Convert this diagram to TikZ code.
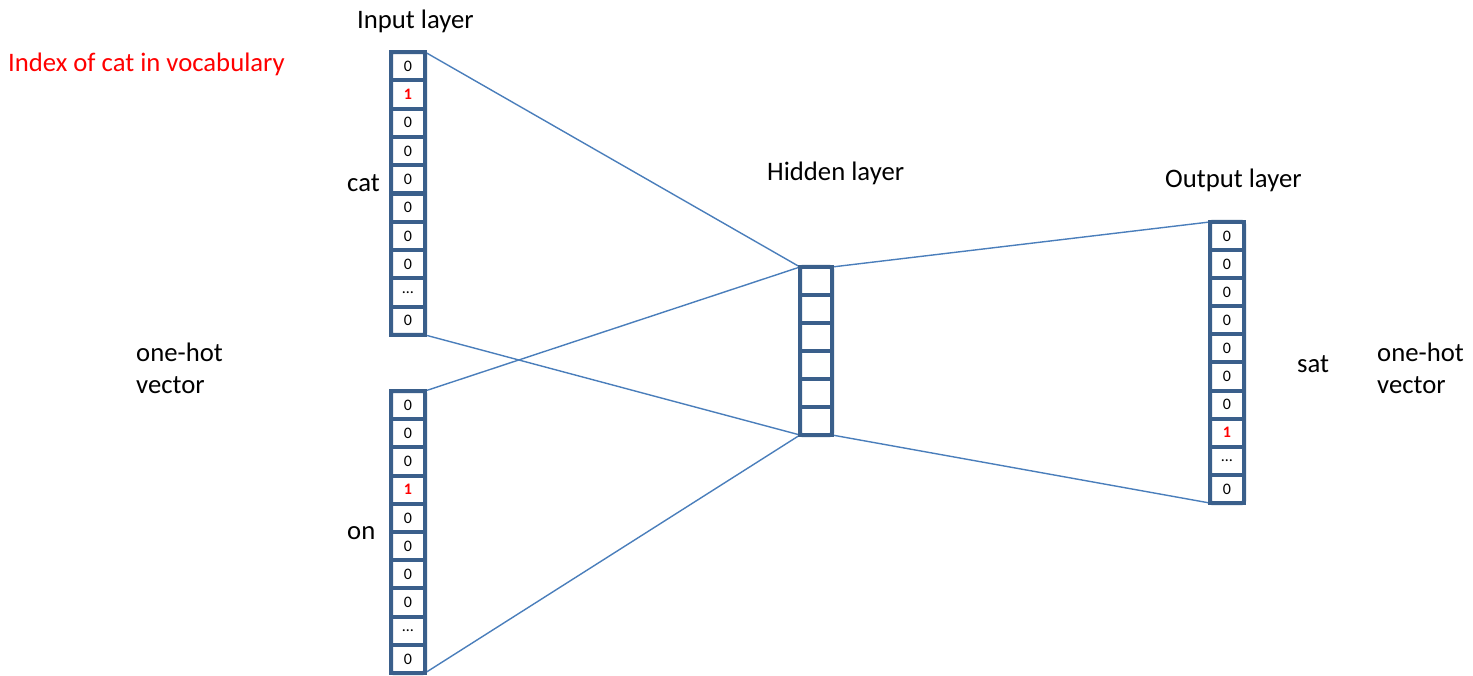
\documentclass[tikz,border=0pt]{standalone}
\usepackage{fontspec}
\setmainfont{Carlito}
\usetikzlibrary{backgrounds}
\definecolor{frameblue}{HTML}{3A5F8B}
\definecolor{connblue}{HTML}{4A7EBB}
\tikzset{
  vcell/.style={draw=frameblue, line width=4pt, fill=white, minimum width=34pt,
    minimum height=28.2pt, inner sep=0pt, outer sep=0pt,
    font=\fontsize{16}{16}\selectfont, text=black},
  hcell/.style={vcell, minimum width=32pt, minimum height=28pt},
  outer/.style={draw=frameblue, line width=4pt, rounded corners=2pt},
  conn/.style={draw=connblue, line width=1.4pt},
  lbl/.style={font=\fontsize{26.7}{31.6}\selectfont, inner sep=0pt, anchor=base west, align=left},
}
\newcommand{\redone}{\textcolor{red}{\textbf{1}}}
\begin{document}
\begin{tikzpicture}[x=1pt,y=-1pt]
\useasboundingbox (0,0) rectangle (1473,676);
% input vector 1 (cat)
\foreach \i in {1,...,10} {
  \node[vcell] (a\i) at (408,{52+28.3*(\i-0.5)})
    {\ifnum\i=2 \redone\else\ifnum\i=9 \ldots\else 0\fi\fi};
}
\draw[outer] (a1.north west) rectangle (a10.south east);
% input vector 2 (on)
\foreach \i in {1,...,10} {
  \node[vcell] (b\i) at (408,{391+28.2*(\i-0.5)})
    {\ifnum\i=4 \redone\else\ifnum\i=9 \ldots\else 0\fi\fi};
}
\draw[outer] (b1.north west) rectangle (b10.south east);
% hidden layer
\foreach \i in {1,...,6} {
  \node[hcell] (h\i) at (816,{267+28*(\i-0.5)}) {};
}
\draw[outer] (h1.north west) rectangle (h6.south east);
% output vector (sat)
\foreach \i in {1,...,10} {
  \node[vcell] (c\i) at (1227,{222+28.1*(\i-0.5)})
    {\ifnum\i=8 \redone\else\ifnum\i=9 \ldots\else 0\fi\fi};
}
\draw[outer] (c1.north west) rectangle (c10.south east);
% connectors
\begin{scope}[on background layer]
  \draw[conn] (a1.north east) -- (h1.north west);
  \draw[conn] (a10.south east) -- (h6.south west);
  \draw[conn] (b1.north east) -- (h1.north west);
  \draw[conn] (b10.south east) -- (h6.south west);
  \draw[conn] (h1.north east) -- (c1.north west);
  \draw[conn] (h6.south east) -- (c10.south west);
\end{scope}
% labels
\node[lbl] (tin) at (357,28.5) {Input layer};
\node[lbl, text=red] (tidx) at (8,71.5) {Index of cat in vocabulary};
\node[lbl] (tcat) at (347,191.7) {cat};
\node[lbl] (ton) at (347,539.3) {on};
\node[lbl] (thid) at (767,180.7) {Hidden layer};
\node[lbl] (tout) at (1165,187.3) {Output layer};
\node[lbl] (tsat) at (1297,372) {sat};
\node[lbl] (toh1) at (136,393.3) {one-hot\\vector};
\node[lbl] (toh2) at (1377,393.3) {one-hot\\vector};
\end{tikzpicture}
\end{document}
